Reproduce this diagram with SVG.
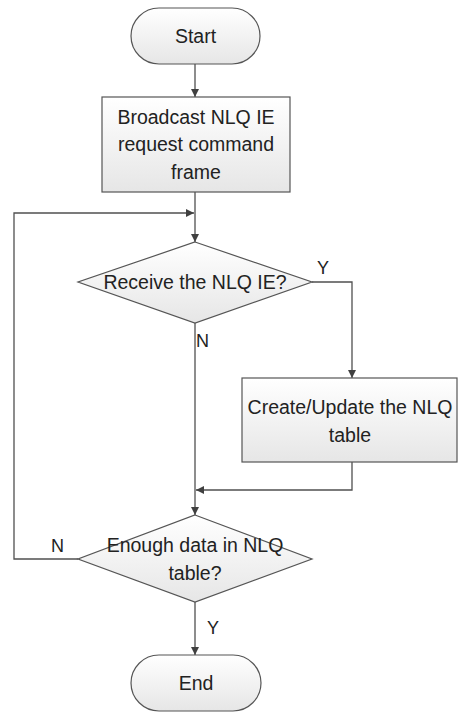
<svg xmlns="http://www.w3.org/2000/svg" width="458" height="712" viewBox="0 0 458 712">
<defs>
<linearGradient id="g" x1="0" y1="0" x2="0" y2="1">
<stop offset="0" stop-color="#ffffff"/>
<stop offset="1" stop-color="#e6e6e6"/>
</linearGradient>
<marker id="a" viewBox="0 0 10 10" refX="10" refY="5" markerWidth="8" markerHeight="8" markerUnits="userSpaceOnUse" orient="auto">
<path d="M0,0 L10,5 L0,10 z" fill="#404040"/>
</marker>
<style>
.s{fill:url(#g);stroke:#555;stroke-width:1.2}
.t{font-family:"Liberation Sans",Arial,sans-serif;font-size:19.5px;fill:#222;text-anchor:middle}
.l{font-family:"Liberation Sans",Arial,sans-serif;font-size:18px;fill:#222}
.c{fill:none;stroke:#505050;stroke-width:1.3;marker-end:url(#a)}
.n{fill:none;stroke:#505050;stroke-width:1.3}
</style>
</defs>
<g id="connectors">
<path class="c" d="M195,64 V97"/>
<path class="c" d="M195,192 V242"/>
<path class="c" d="M78,559 H14 V213 H194"/>
<path class="c" d="M312,282 H352 V378"/>
<path class="n" d="M195,323 V490"/>
<path class="c" d="M352,462 V490 H196"/>
<path class="c" d="M195,490 V515"/>
<path class="c" d="M195,602 V655"/>
</g>
<g id="start"><rect class="s" x="131" y="8" width="129" height="56" rx="28"/><text class="t" x="195.5" y="43">Start</text></g>
<g id="broadcast"><rect class="s" x="102" y="97" width="188" height="95"/><text class="t" x="196" y="124">Broadcast NLQ IE</text><text class="t" x="196" y="151">request command</text><text class="t" x="196" y="179">frame</text></g>
<g id="receive"><path class="s" d="M195,242 L312,282 L195,323 L78,282 z"/><text class="t" x="195" y="289">Receive the NLQ IE?</text></g>
<g id="update"><rect class="s" x="242" y="378" width="215" height="84"/><text class="t" x="350" y="414">Create/Update the NLQ</text><text class="t" x="350" y="442">table</text></g>
<g id="enough"><path class="s" d="M195,515 L312,559 L195,602 L78,559 z"/><text class="t" x="195" y="552">Enough data in NLQ</text><text class="t" x="195" y="580">table?</text></g>
<g id="end"><rect class="s" x="131" y="655" width="130" height="56" rx="28"/><text class="t" x="196" y="690">End</text></g>
<g id="labels">
<text class="l" x="317" y="274">Y</text>
<text class="l" x="196" y="347">N</text>
<text class="l" x="51" y="552">N</text>
<text class="l" x="207" y="634">Y</text>
</g>
</svg>
